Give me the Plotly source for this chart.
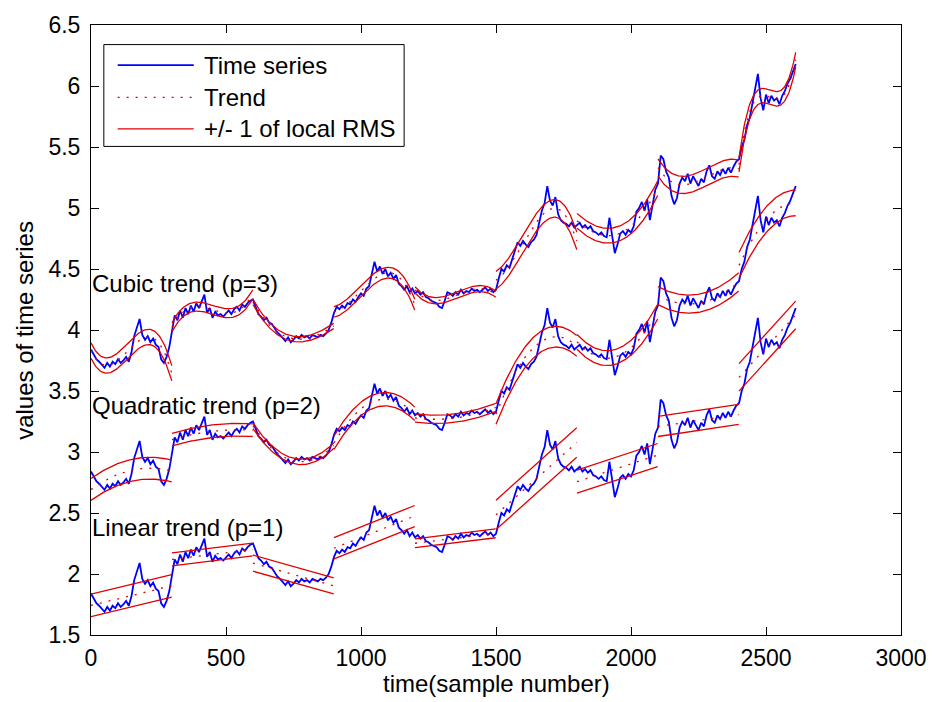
import numpy as np
import plotly.graph_objects as go

# ---------------- data ----------------
sample_step = 10          # samples between successive readings
segment_length = 300      # samples per local-fit window

# base time series (the copy shown with the linear trend), one value every 10 samples
series_values = [
    1.84, 1.80, 1.76, 1.74, 1.71, 1.69, 1.73, 1.70, 1.74, 1.72,
    1.76, 1.73, 1.75, 1.78, 1.74, 1.82, 1.95, 2.03, 2.09, 1.96,
    1.92, 1.95, 1.90, 1.93, 1.88, 1.86, 1.76, 1.73, 1.78, 1.86,
    1.98, 2.12, 2.08, 2.16, 2.10, 2.18, 2.13, 2.20, 2.15, 2.22,
    2.18, 2.24, 2.29, 2.14, 2.18, 2.10, 2.15, 2.12, 2.13, 2.11,
    2.14, 2.16, 2.13, 2.17, 2.19, 2.16, 2.21, 2.19, 2.22, 2.24,
    2.25, 2.18, 2.13, 2.11, 2.08, 2.10, 2.06, 2.05, 2.01, 1.98,
    1.96, 1.93, 1.91, 1.94, 1.90, 1.92, 1.95, 1.93, 1.96, 1.94,
    1.95, 1.93, 1.96, 1.95, 1.94, 1.96, 1.95, 1.97, 2.00, 2.06,
    2.14, 2.19, 2.17, 2.20, 2.18, 2.22, 2.21, 2.25, 2.23, 2.27,
    2.30, 2.28, 2.34, 2.36, 2.45, 2.56, 2.48, 2.52, 2.46, 2.50,
    2.44, 2.47, 2.42, 2.45, 2.38, 2.36, 2.33, 2.36, 2.31, 2.34,
    2.30, 2.32, 2.29, 2.31, 2.27, 2.26, 2.24, 2.23, 2.22, 2.19,
    2.18, 2.24, 2.31, 2.30, 2.28, 2.31, 2.29, 2.33, 2.30, 2.32,
    2.31, 2.34, 2.32, 2.33, 2.31, 2.33, 2.35, 2.32, 2.34, 2.31,
    2.33, 2.42, 2.50, 2.48, 2.53, 2.51, 2.58, 2.64, 2.72, 2.69,
    2.73, 2.70, 2.68, 2.72, 2.74, 2.78, 2.88, 2.98, 3.04, 3.18,
    3.06, 3.02, 3.09, 2.95, 2.90, 2.88, 2.87, 2.85, 2.88, 2.84,
    2.86, 2.88, 2.84, 2.86, 2.83, 2.85, 2.81, 2.80, 2.78, 2.80,
    2.77, 2.76, 2.92, 2.78, 2.63, 2.70, 2.79, 2.81, 2.78, 2.82,
    2.80, 2.85, 2.97, 3.00, 3.05, 2.98, 3.07, 2.90, 3.04, 3.15,
    3.20, 3.43, 3.40, 3.30, 3.25, 3.10, 3.03, 3.08, 3.20, 3.25,
    3.22, 3.28, 3.20, 3.26, 3.22, 3.18, 3.24, 3.21, 3.30, 3.35,
    3.26, 3.24, 3.30, 3.27, 3.32, 3.28, 3.33, 3.29, 3.34, 3.38,
    3.40, 3.50, 3.56, 3.68, 3.74, 3.86, 3.95, 4.10, 3.90, 3.80,
    3.93, 3.86, 3.92, 3.88, 3.90, 3.85, 3.92, 3.96, 4.02, 4.06,
    4.12, 4.18,
]

copy_offsets = [0, 1, 2]          # vertical shift of each copy
fit_orders = [1, 2, 3]            # polynomial order fitted to each copy
copy_labels = ["Linear trend (p=1)", "Quadratic trend (p=2)", "Cubic trend (p=3)"]
label_y = [2.38, 3.38, 4.38]
label_x = 0

legend_labels = ["Time series", "Trend", "+/- 1 of local RMS"]

x_tick_vals = [0, 500, 1000, 1500, 2000, 2500, 3000]
y_tick_vals = [1.5, 2, 2.5, 3, 3.5, 4, 4.5, 5, 5.5, 6, 6.5]
y_tick_text = ["1.5", "2", "2.5", "3", "3.5", "4", "4.5", "5", "5.5", "6", "6.5"]

# ---------------- styling ----------------
FONT = "Liberation Sans, Arial, Helvetica, sans-serif"
FS = 24          # labels, titles, legend
FS_TICK = 23     # tick labels
BLUE = "#0000ff"
RED = "#e00000"

base = np.array(series_values)
t = np.arange(len(base)) * sample_step

fig = go.Figure()

# time series copies
for off in copy_offsets:
    fig.add_trace(go.Scatter(x=t, y=base + off, mode="lines",
                             line=dict(color=BLUE, width=1.8),
                             showlegend=False, hoverinfo="skip"))

# local fits
for off, p in zip(copy_offsets, fit_orders):
    tx, ty, ux, uy, lx, ly = [], [], [], [], [], []
    y = base + off
    for s in range(0, int(t[-1]) + 1, segment_length):
        m = (t >= s) & (t < s + segment_length)
        xs, ys = t[m].astype(float), y[m]
        c = xs.mean()
        coef = np.polyfit(xs - c, ys, p)
        resid = ys - np.polyval(coef, xs - c)
        rms = np.sqrt(np.mean(resid ** 2))
        xe = min(s + segment_length - 1, t[-1])
        xf = np.linspace(s, xe, 80)
        yf = np.polyval(coef, xf - c)
        tx += list(xf) + [None]; ty += list(yf) + [None]
        ux += list(xf) + [None]; uy += list(yf + rms) + [None]
        lx += list(xf) + [None]; ly += list(yf - rms) + [None]
    fig.add_trace(go.Scatter(x=tx, y=ty, mode="lines",
                             line=dict(color=RED, width=1.3, dash="2px,7px"),
                             showlegend=False, hoverinfo="skip"))
    for xx, yy in ((ux, uy), (lx, ly)):
        fig.add_trace(go.Scatter(x=xx, y=yy, mode="lines",
                                 line=dict(color=RED, width=1.3),
                                 showlegend=False, hoverinfo="skip"))

# text labels for each copy
for txt, yv in zip(copy_labels, label_y):
    fig.add_annotation(x=label_x, y=yv, text=txt, showarrow=False,
                       xanchor="left", yanchor="middle", xshift=-1,
                       font=dict(family=FONT, size=FS, color="black"))

# ---------------- geometry ----------------
L, R, T, B = 91, 911, 12, 635          # plot area in window pixels
def px(xp):
    return (xp - L) / (R - L)
def py(yp):
    return (B - yp) / (B - T)

# ---------------- custom MATLAB-like legend ----------------
box = dict(x0=104, x1=408, y0=32, y1=136)
fig.add_shape(type="rect", xref="paper", yref="paper",
              x0=px(box["x0"]), x1=px(box["x1"]), y0=py(box["y1"]), y1=py(box["y0"]),
              line=dict(color="black", width=1), fillcolor="white", layer="above")
rows = [53, 86, 118]
styles = [dict(color=BLUE, width=1.8), dict(color=RED, width=1.3, dash="2px,7px"),
          dict(color=RED, width=1.3)]
for r, st, txt in zip(rows, styles, legend_labels):
    fig.add_shape(type="line", xref="paper", yref="paper",
                  x0=px(118), x1=px(195), y0=py(r), y1=py(r), line=st, layer="above")
    fig.add_annotation(xref="paper", yref="paper", x=px(203), y=py(r), text=txt,
                       showarrow=False, xanchor="left", yanchor="middle",
                       font=dict(family=FONT, size=FS, color="black"))

# axis titles
fig.add_annotation(xref="paper", yref="paper", x=0.5, y=py(685),
                   text="time(sample number)", showarrow=False,
                   xanchor="center", yanchor="middle",
                   font=dict(family=FONT, size=FS, color="black"))
fig.add_annotation(xref="paper", yref="paper", x=px(23), y=0.5,
                   text="values of time series", showarrow=False, textangle=-90,
                   xanchor="center", yanchor="middle",
                   font=dict(family=FONT, size=FS, color="black"))

axis_common = dict(showgrid=False, zeroline=False, showline=True, linecolor="black",
                   linewidth=1, mirror="ticks", ticks="inside", ticklen=8,
                   tickcolor="black", tickwidth=1, ticklabeloverflow="allow",
                   tickfont=dict(family=FONT, size=FS_TICK, color="black"))
fig.update_xaxes(range=[0, 3000], tickvals=x_tick_vals, ticklabelstandoff=2, **axis_common)
fig.update_yaxes(range=[1.5, 6.5], tickvals=y_tick_vals, ticktext=y_tick_text,
                 ticklabelstandoff=5, **axis_common)

fig.update_layout(width=939, height=702, autosize=False,
                  margin=dict(l=L, r=939 - R, t=T, b=702 - B),
                  plot_bgcolor="white", paper_bgcolor="white",
                  font=dict(family=FONT, size=FS, color="black"),
                  hovermode=False, showlegend=False)

# remove the browser's default 8px body margin so the figure sits at the window origin
fig.write_html("out.html", config={"displayModeBar": False},
               post_script="document.body.style.margin='0px';")
